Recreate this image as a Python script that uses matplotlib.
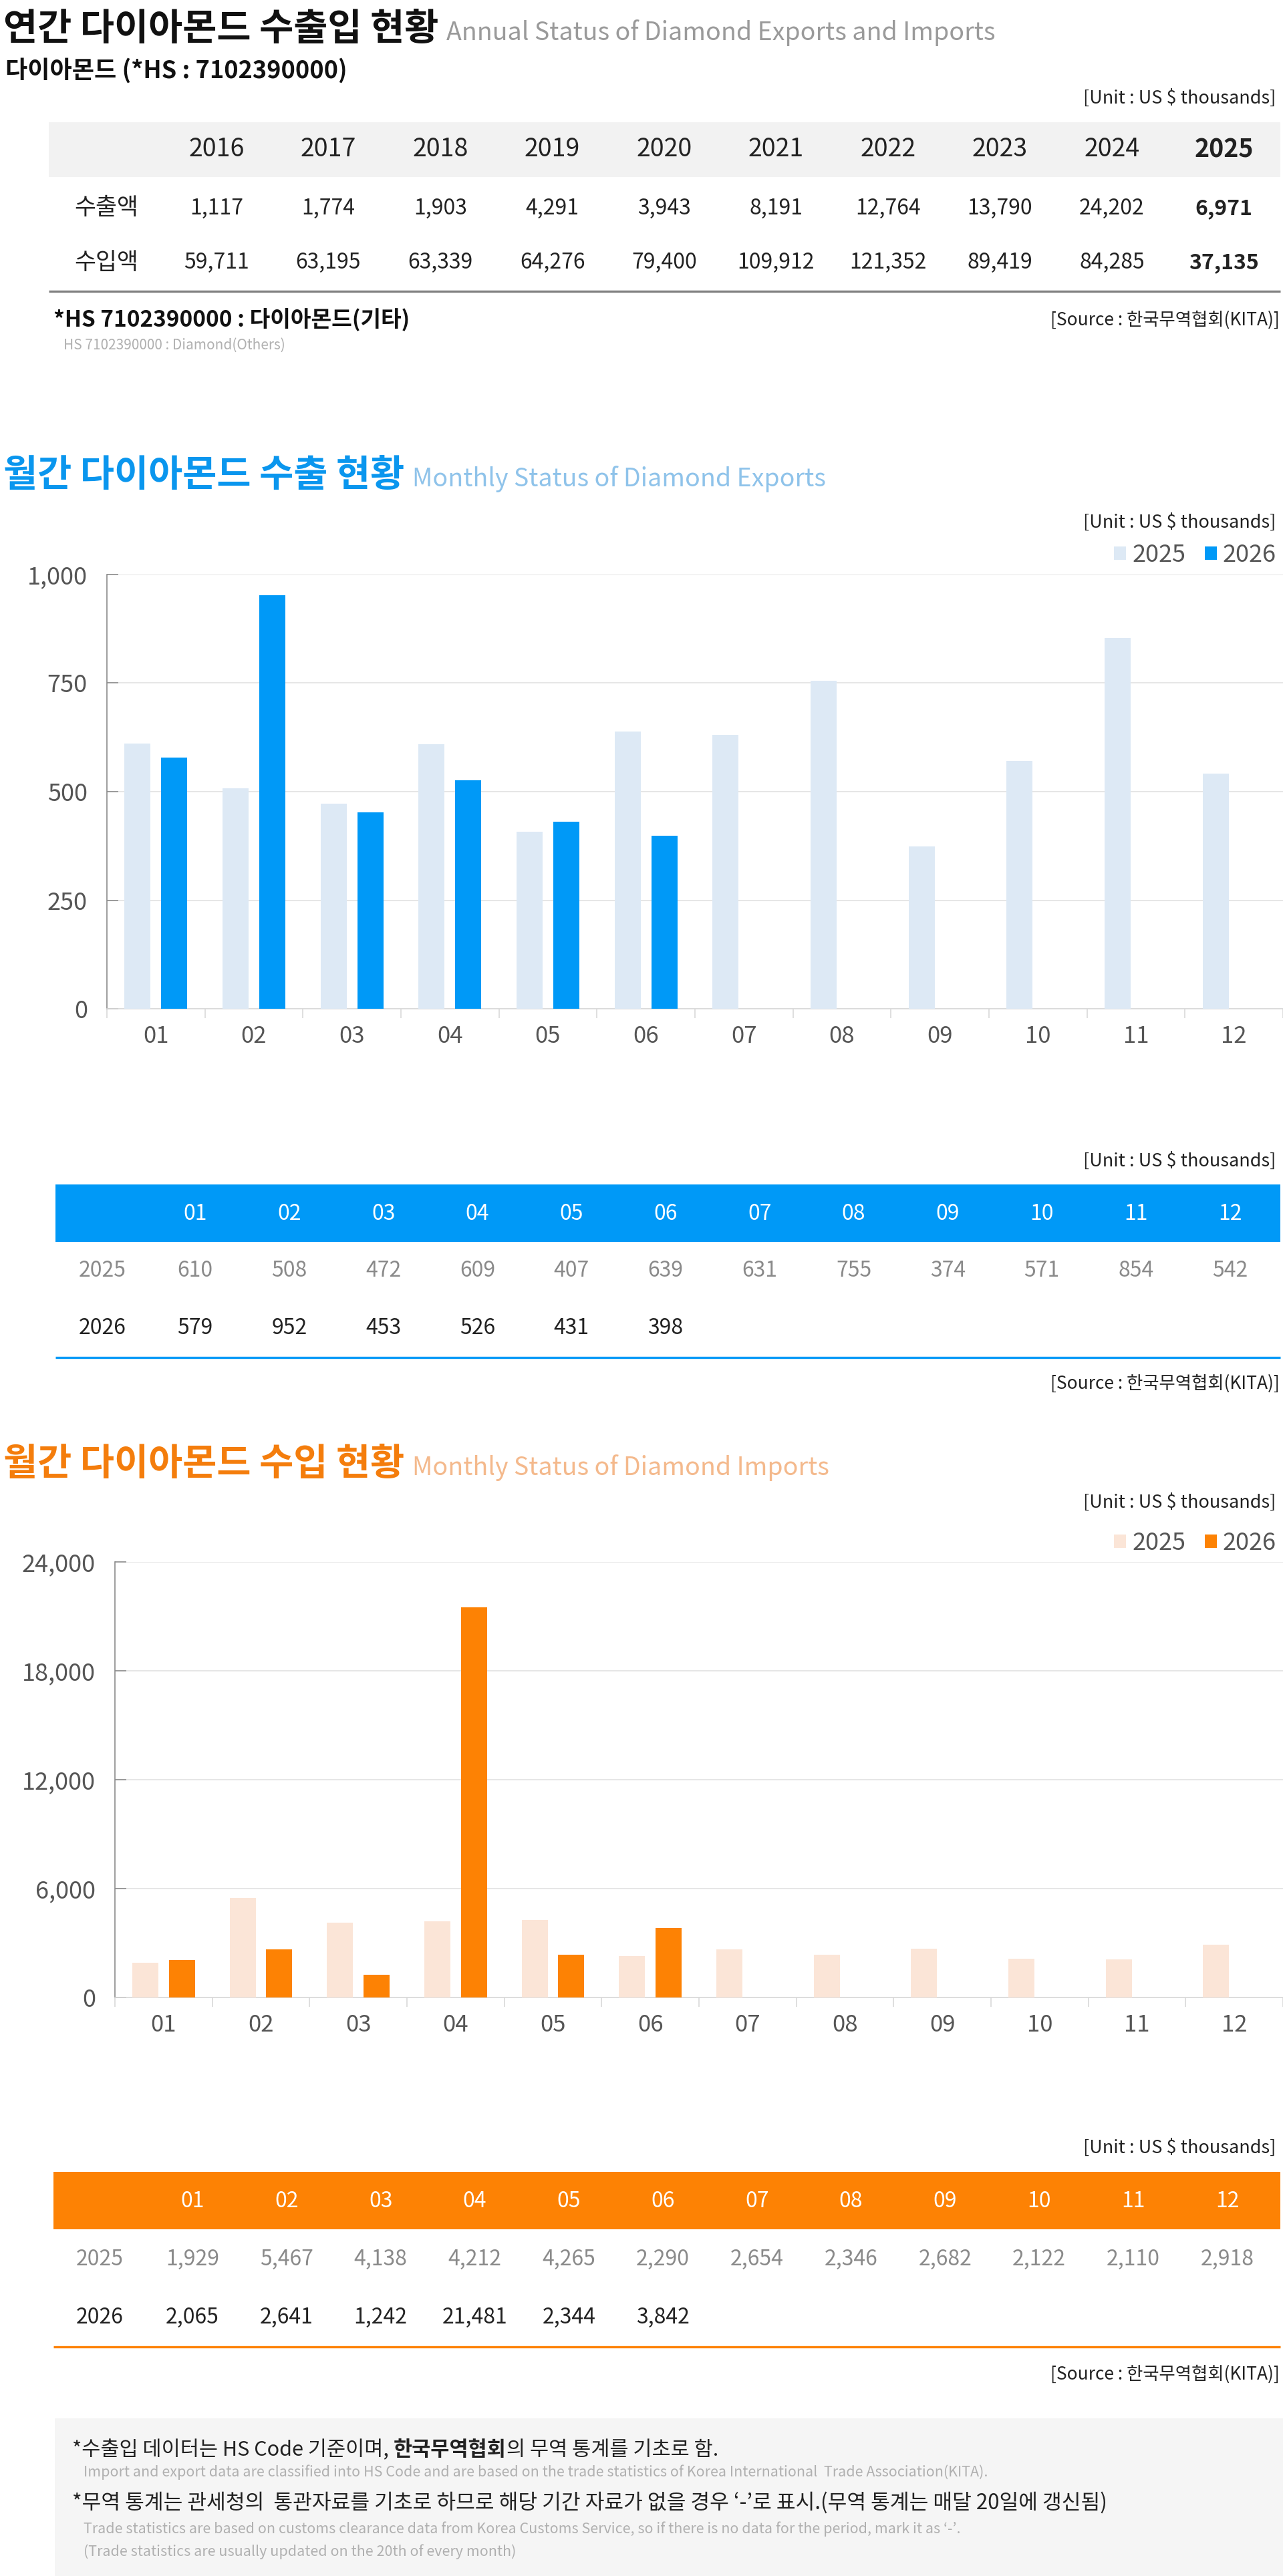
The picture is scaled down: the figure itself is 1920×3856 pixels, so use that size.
import numpy as np
import matplotlib
matplotlib.use("Agg")
import matplotlib.pyplot as plt
from matplotlib.patches import Rectangle

plt.rcParams['font.family'] = ['Noto Sans CJK KR', 'DejaVu Sans']

# ---- data ----
years = ['2016', '2017', '2018', '2019', '2020', '2021', '2022', '2023', '2024', '2025']
annual_exports = [1117, 1774, 1903, 4291, 3943, 8191, 12764, 13790, 24202, 6971]
annual_imports = [59711, 63195, 63339, 64276, 79400, 109912, 121352, 89419, 84285, 37135]

months = ['01', '02', '03', '04', '05', '06', '07', '08', '09', '10', '11', '12']
exp_2025 = [610, 508, 472, 609, 407, 639, 631, 755, 374, 571, 854, 542]
exp_2026 = [579, 952, 453, 526, 431, 398]
imp_2025 = [1929, 5467, 4138, 4212, 4265, 2290, 2654, 2346, 2682, 2122, 2110, 2918]
imp_2026 = [2065, 2641, 1242, 21481, 2344, 3842]

exp_ticks = [0, 250, 500, 750, 1000]
imp_ticks = [0, 6000, 12000, 18000, 24000]

W, H = 1920, 3856
BLUE = '#0099f7'
BLUE_L = '#dde9f5'
ORANGE = '#fd8204'
ORANGE_L = '#fbe5d7'
DARK = '#222222'
GRAY = '#555555'

fig = plt.figure(figsize=(W / 100, H / 100), dpi=100)
bg = fig.add_axes([0, 0, 1, 1])
bg.set_xlim(0, W)
bg.set_ylim(H, 0)
bg.axis('off')
renderer = fig.canvas.get_renderer()


def right_edge(t):
    return t.get_window_extent(renderer).x1


def title_pair(y, ko, en, size, en_size, color, en_color):
    t = bg.text(5, y, ko, fontsize=size, fontweight='bold', color=color, va='baseline')
    bg.text(right_edge(t) + 12, y, en, fontsize=en_size, color=en_color, va='baseline')


def unit(y):
    bg.text(1909, y, '[Unit : US $ thousands]', fontsize=19.5, color=DARK, ha='right', va='center')


def source(y):
    bg.text(1915, y, '[Source : 한국무역협회(KITA)]', fontsize=19, color=DARK, ha='right', va='center')


# ---- annual table ----
title_pair(60, '연간 다이아몬드 수출입 현황', 'Annual Status of Diamond Exports and Imports',
           40, 27, '#111111', '#9a9a9a')
bg.text(8, 106, '다이아몬드 (*HS : 7102390000)', fontsize=26, fontweight='bold', color='#111111', va='center')
unit(147)
bg.add_patch(Rectangle((73, 183), 1916 - 73, 82, color='#f2f2f2', lw=0))
col_x = 324 + 167.5 * np.arange(len(years))
for i, yr in enumerate(years):
    w = 'bold' if i == len(years) - 1 else 'normal'
    bg.text(col_x[i], 224, yr, fontsize=27, color=DARK, ha='center', va='center', fontweight=w)
for label, vals, yy in [('수출액', annual_exports, 312), ('수입액', annual_imports, 393)]:
    bg.text(159, yy, label, fontsize=25, color=DARK, ha='center', va='center')
    for i, v in enumerate(vals):
        w = 'bold' if i == len(vals) - 1 else 'normal'
        bg.text(col_x[i], yy, f'{v:,}', fontsize=23, color=DARK, ha='center', va='center', fontweight=w)
bg.plot([73, 1916], [436, 436], color='#808080', lw=2.4, solid_capstyle='butt')
bg.text(80, 479, '*HS 7102390000 : 다이아몬드(기타)', fontsize=24, fontweight='bold', color='#111111', va='center')
bg.text(95, 517, 'HS 7102390000 : Diamond(Others)', fontsize=15, color='#b0b0b0', va='center')
source(479)


# ---- monthly charts ----
def bar_chart(rect_px, v25, v26, c25, c26, ticks, legend_y):
    l, t, r, b = rect_px
    ax = fig.add_axes([l / W, 1 - b / H, (r - l) / W, (b - t) / H])
    ax.set_facecolor('none')
    x = np.arange(len(months))
    b25 = ax.bar(x - 0.187, v25, width=0.267, color=c25, zorder=3)
    b26 = ax.bar(x[:len(v26)] + 0.187, v26, width=0.267, color=c26, zorder=3)
    ax.set_xlim(-0.5, len(months) - 0.5)
    ax.set_ylim(ticks[0], ticks[-1])
    ax.set_yticks(ticks)
    ax.set_yticklabels([f'{v:,}' for v in ticks])
    ax.set_xticks(x)
    ax.set_xticklabels(months)
    ax.set_xticks(np.arange(len(months) + 1) - 0.5, minor=True)
    ax.grid(axis='y', color='#e2e2e2', lw=1.2, zorder=0)
    for s in ['top', 'right']:
        ax.spines[s].set_visible(False)
    ax.spines['left'].set_color('#8c8c8c')
    ax.spines['left'].set_linewidth(1.2)
    ax.spines['bottom'].set_color('#d9d9d9')
    ax.spines['bottom'].set_linewidth(1.2)
    ax.tick_params(axis='y', direction='in', length=12, width=1.2, color='#8c8c8c',
                   labelsize=26, labelcolor=GRAY, pad=21)
    ax.tick_params(axis='x', which='major', length=0, labelsize=25, labelcolor=GRAY, pad=17)
    ax.tick_params(axis='x', which='minor', length=10, width=1.2, color='#d9d9d9', direction='out')
    ax.legend([b25, b26], ['2025', '2026'], loc='center right',
              bbox_to_anchor=(1910 / W, 1 - legend_y / H), bbox_transform=fig.transFigure,
              ncol=2, frameon=False, fontsize=26, labelcolor=GRAY,
              handlelength=0.5, handleheight=0.5, handletextpad=0.25,
              columnspacing=0.8, borderaxespad=0, borderpad=0)
    return ax


def month_table(band, band_x, color, label_x, first_x, rows_y, line_y, v25, v26):
    t, b = band
    bg.add_patch(Rectangle((band_x, t), 1916 - band_x, b - t, color=color, lw=0))
    mx = first_x + 140.8 * np.arange(len(months))
    for i, m in enumerate(months):
        bg.text(mx[i], (t + b) / 2 + 1, m, fontsize=23, color='white', ha='center', va='center')
    for label, vals, yy, c in [('2025', v25, rows_y[0], '#8a8a8a'), ('2026', v26, rows_y[1], DARK)]:
        bg.text(label_x, yy, label, fontsize=23, color=c, ha='center', va='center')
        for i, v in enumerate(vals):
            bg.text(mx[i], yy, f'{v:,}', fontsize=23, color=c, ha='center', va='center')
    bg.plot([band_x, 1916], [line_y, line_y], color=color, lw=2.4, solid_capstyle='butt')


# exports
title_pair(728, '월간 다이아몬드 수출 현황', 'Monthly Status of Diamond Exports',
           40, 27, '#0a96ee', '#8fc3ea')
unit(782)
bar_chart((160, 860, 1920, 1510), exp_2025, exp_2026, BLUE_L, BLUE, exp_ticks, 831)
unit(1738)
month_table((1773, 1859), 83, BLUE, 153, 292, (1902, 1988), 2032, exp_2025, exp_2026)
source(2071)

# imports
title_pair(2208, '월간 다이아몬드 수입 현황', 'Monthly Status of Diamond Imports',
           40, 27, '#f47d0c', '#f4b98c')
unit(2249)
bar_chart((172, 2338, 1920, 2990), imp_2025, imp_2026, ORANGE_L, ORANGE, imp_ticks, 2310)
unit(3215)
month_table((3251, 3337), 80, ORANGE, 149, 288, (3382, 3469), 3513, imp_2025, imp_2026)
source(3554)

# ---- footer ----
bg.add_patch(Rectangle((82, 3620), W - 82, H - 3620, color='#f5f5f5', lw=0))
f1 = bg.text(108, 3667, '*수출입 데이터는 HS Code 기준이며,', fontsize=22, color=DARK, va='center')
f2 = bg.text(right_edge(f1) + 7, 3667, '한국무역협회', fontsize=22, color=DARK, va='center', fontweight='bold')
bg.text(right_edge(f2), 3667, '의 무역 통계를 기초로 함.', fontsize=22, color=DARK, va='center')
bg.text(125, 3701, 'Import and export data are classified into HS Code and are based on the trade '
        'statistics of Korea International  Trade Association(KITA).', fontsize=15.5, color='#b0b0b0', va='center')
bg.text(108, 3746, '*무역 통계는 관세청의  통관자료를 기초로 하므로 해당 기간 자료가 없을 경우 ‘-’로 표시.'
        '(무역 통계는 매달 20일에 갱신됨)', fontsize=22.5, color=DARK, va='center')
bg.text(125, 3786, 'Trade statistics are based on customs clearance data from Korea Customs Service, '
        'so if there is no data for the period, mark it as ‘-’.', fontsize=15.5, color='#b0b0b0', va='center')
bg.text(125, 3820, '(Trade statistics are usually updated on the 20th of every month)',
        fontsize=15.5, color='#b0b0b0', va='center')

fig.savefig('out.png', dpi=100, facecolor='white')
